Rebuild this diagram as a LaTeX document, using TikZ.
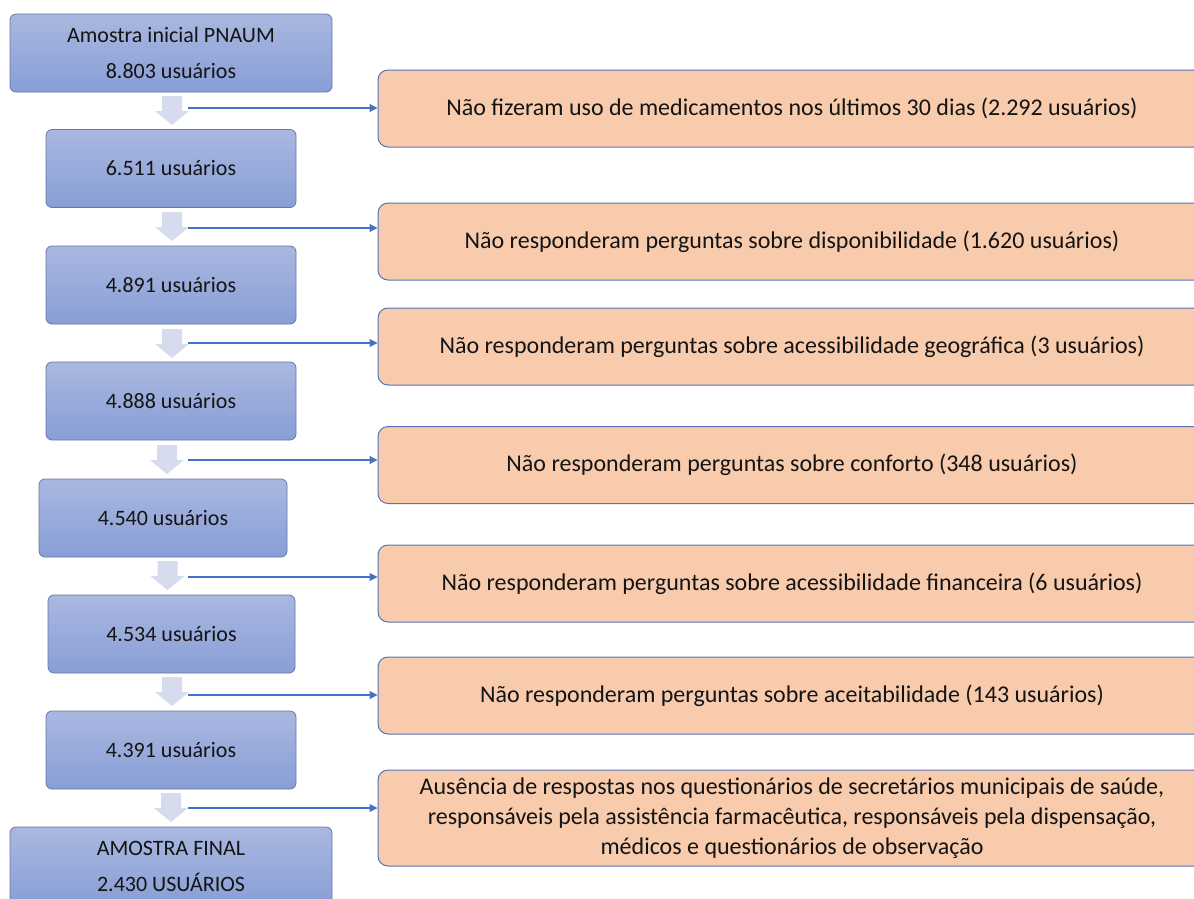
\documentclass[tikz,border=0pt]{standalone}
\usepackage{fontspec}
\setmainfont{Carlito}
\usetikzlibrary{arrows.meta}
\definecolor{bluetop}{RGB}{170,184,224}
\definecolor{bluebot}{RGB}{136,158,214}
\definecolor{blueedge}{RGB}{104,120,165}
\definecolor{orangefill}{RGB}{248,203,173}
\definecolor{orangeedge}{RGB}{84,116,186}
\definecolor{arrowfill}{RGB}{214,220,238}
\definecolor{connblue}{RGB}{68,114,196}
\definecolor{txt}{RGB}{20,20,20}
\newcommand{\flowdownarrow}[2]{%
  \fill[arrowfill] ({#1-10},#2) -- ({#1+10},#2) -- ({#1+10},{#2+15}) -- ({#1+17},{#2+15}) -- (#1,{#2+29}) -- ({#1-17},{#2+15}) -- ({#1-10},{#2+15}) -- cycle;}
\tikzset{
  stagebox/.style={draw=blueedge, line width=0.8pt, rounded corners=6pt, top color=bluetop, bottom color=bluebot, text=txt, font=\fontsize{22}{36}\selectfont, align=center, inner sep=0pt, minimum height=78pt},
  exclbox/.style={draw=orangeedge, line width=1pt, rounded corners=10pt, fill=orangefill, text=txt, font=\fontsize{24}{30}\selectfont, align=center, inner sep=0pt, minimum width=828pt, minimum height=77pt},
  conn/.style={draw=connblue, line width=1.1pt, -{Triangle[length=8pt,width=8pt]}}
}
\begin{document}
\begin{tikzpicture}[x=1pt,y=-1pt]
\clip (0,0) rectangle (1194,898);
\fill[white] (0,0) rectangle (1194,898);
% stage boxes
\node[stagebox, minimum width=322pt] (b1) at (171,53) {Amostra inicial PNAUM\\8.803 usuários};
\node[stagebox, minimum width=250pt] (b2) at (171,168.5) {6.511 usuários};
\node[stagebox, minimum width=250pt] (b3) at (171,285) {4.891 usuários};
\node[stagebox, minimum width=250pt] (b4) at (171,401) {4.888 usuários};
\node[stagebox, minimum width=248pt] (b5) at (163,518) {4.540 usuários};
\node[stagebox, minimum width=247pt] (b6) at (171.5,634) {4.534 usuários};
\node[stagebox, minimum width=250pt] (b7) at (171,750) {4.391 usuários};
\node[stagebox, minimum width=322pt] (b8) at (171,866) {AMOSTRA FINAL\\2.430 USUÁRIOS};
% exclusion boxes
\node[exclbox] (o1) at (792,108.5) {Não fizeram uso de medicamentos nos últimos 30 dias (2.292 usuários)};
\node[exclbox] (o2) at (792,241.5) {Não responderam perguntas sobre disponibilidade (1.620 usuários)};
\node[exclbox] (o3) at (792,346.5) {Não responderam perguntas sobre acessibilidade geográfica (3 usuários)};
\node[exclbox] (o4) at (792,465) {Não responderam perguntas sobre conforto (348 usuários)};
\node[exclbox] (o5) at (792,583.5) {Não responderam perguntas sobre acessibilidade financeira (6 usuários)};
\node[exclbox] (o6) at (792,695.5) {Não responderam perguntas sobre aceitabilidade (143 usuários)};
\node[exclbox, minimum height=96pt] (o7) at (792,818) {Ausência de respostas nos questionários de secretários municipais de saúde,\\responsáveis pela assistência farmacêutica, responsáveis pela dispensação,\\médicos e questionários de observação};
% down arrows
\flowdownarrow{172}{96}
\flowdownarrow{172}{212}
\flowdownarrow{172}{329}
\flowdownarrow{167}{445}
\flowdownarrow{167.5}{561}
\flowdownarrow{172}{677}
\flowdownarrow{171}{793}
% connector starts
\coordinate (s1) at (188,108);
\coordinate (s2) at (188,228);
\coordinate (s3) at (188,343);
\coordinate (s4) at (188,460);
\coordinate (s5) at (188,577);
\coordinate (s6) at (188,695);
\coordinate (s7) at (188,808);
\draw[conn] (s1) -- (s1 -| o1.west);
\draw[conn] (s2) -- (s2 -| o2.west);
\draw[conn] (s3) -- (s3 -| o3.west);
\draw[conn] (s4) -- (s4 -| o4.west);
\draw[conn] (s5) -- (s5 -| o5.west);
\draw[conn] (s6) -- (s6 -| o6.west);
\draw[conn] (s7) -- (s7 -| o7.west);
\end{tikzpicture}
\end{document}
